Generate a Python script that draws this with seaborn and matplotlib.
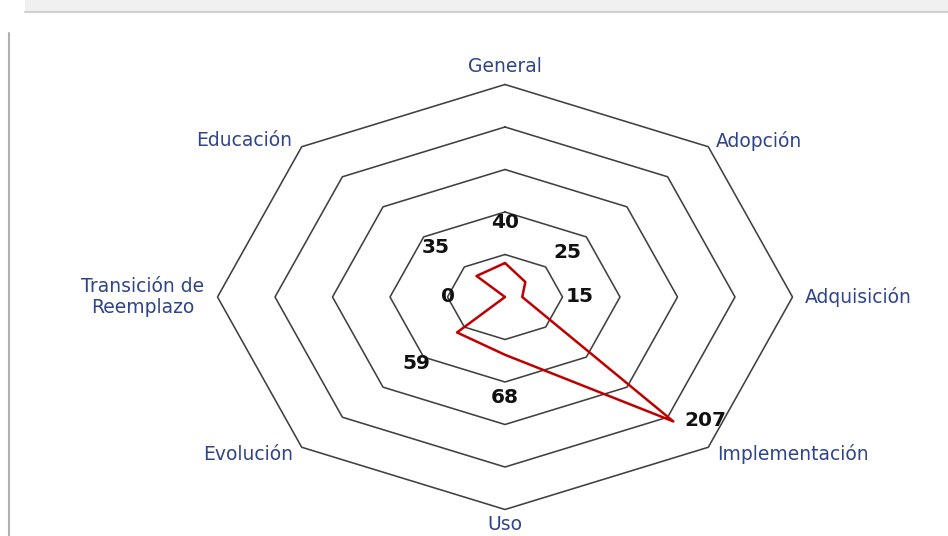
import numpy as np
import pandas as pd
import matplotlib
matplotlib.use("Agg")
import matplotlib.pyplot as plt
import seaborn as sns
from matplotlib.patches import Rectangle
from matplotlib.lines import Line2D

# ---- data ----
categories = ["General", "Adopción", "Adquisición", "Implementación",
              "Uso", "Evolución", "Transición de\nReemplazo", "Educación"]
values = [40, 25, 15, 207, 68, 59, 0, 35]
value_labels = ["40", "25", "15", "207", "68", "59", "0", "35"]
ring_levels = [50, 100, 150, 200, 250]

# ---- styling / placement (not data) ----
value_label_pos = [(0, 88), (54, 52), (65, 0), (174, -145),
                   (0, -118), (-77, -78), (-50, 0), (-60, 58)]
cat_offsets = [(0, 18, "center"), (8, 6, "left"), (12, 0, "left"), (9, -7, "left"),
               (0, -15, "center"), (-9, -7, "right"), (-13, 0, "right"), (-10, 6, "right")]

sns.set_theme(style="white")
plt.rcParams["font.family"] = ["DejaVu Sans"]

W, H = 948, 536
fig = plt.figure(figsize=(W / 100, H / 100), dpi=100)
fig.patch.set_facecolor("white")
ax = fig.add_axes([0, 0, 1, 1])
px_x, px_y = 1.15, 0.85          # pixels per value unit (chart is stretched horizontally)
cx, cy = 505, 297                # centre in pixels (from top-left)
ax.set_xlim(-cx / px_x, (W - cx) / px_x)
ax.set_ylim(-(H - cy) / px_y, cy / px_y)
ax.axis("off")

n = len(categories)
theta = np.arange(n) * 2 * np.pi / n
dirx, diry = np.sin(theta), np.cos(theta)

# grid rings
for r in ring_levels:
    xs = np.append(r * dirx, r * dirx[0])
    ys = np.append(r * diry, r * diry[0])
    ax.plot(xs, ys, color="#404040", lw=1.15, zorder=1)

# data polygon
vals = np.array(values, dtype=float)
df = pd.DataFrame({
    "x": np.append(vals * dirx, vals[0] * dirx[0]),
    "y": np.append(vals * diry, vals[0] * diry[0]),
})
sns.lineplot(data=df, x="x", y="y", sort=False, color="#C00000", lw=1.8,
             ax=ax, zorder=3, estimator=None)
ax.set_xlabel("")
ax.set_ylabel("")

# value labels
for lab, (lx, ly) in zip(value_labels, value_label_pos):
    ax.text(lx, ly, lab, ha="center", va="center", fontsize=14.5, fontweight="bold",
            color="#111111", zorder=4)

# category labels
R = ring_levels[-1]
for i, cat in enumerate(categories):
    dx, dy, ha = cat_offsets[i]
    ax.annotate(cat, xy=(R * dirx[i], R * diry[i]), xytext=(dx, dy),
                textcoords="offset pixels", ha=ha, va="center",
                multialignment="center", fontsize=13.5, color="#30448a",
                linespacing=1.1)

# screenshot frame decorations
fig.add_artist(Rectangle((25 / W, 1 - 11 / H), 1, 11 / H, transform=fig.transFigure,
                         facecolor="#f0f0f0", edgecolor="none"))
fig.add_artist(Line2D([25 / W, 1], [1 - 12 / H, 1 - 12 / H], transform=fig.transFigure,
                      color="#cfcfcf", lw=1.5))
fig.add_artist(Line2D([9 / W, 9 / W], [0, 1 - 33 / H], transform=fig.transFigure,
                      color="#b0b0b0", lw=1.5))

fig.savefig("out.png", dpi=100)
